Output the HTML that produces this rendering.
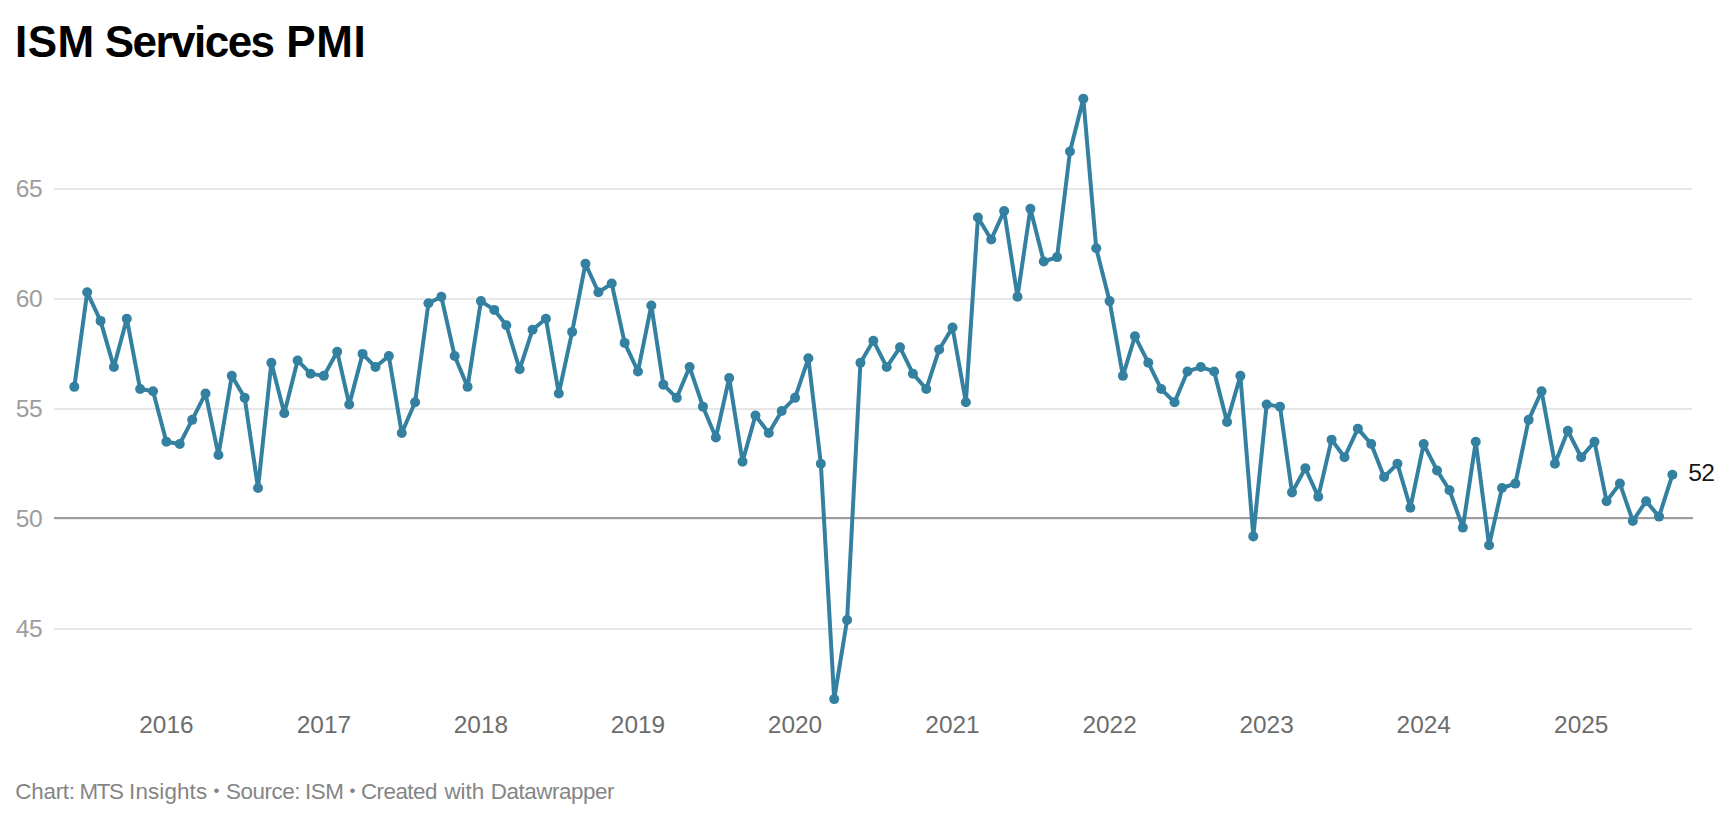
<!DOCTYPE html>
<html><head><meta charset="utf-8"><title>ISM Services PMI</title>
<style>
html,body{margin:0;padding:0;background:#fff;}
body{width:1728px;height:820px;overflow:hidden;position:relative;font-family:"Liberation Sans",sans-serif;}
h1 span{position:absolute;top:0;}
h1{position:absolute;left:14.9px;top:14px;margin:0;font-size:44px;line-height:56px;font-weight:700;letter-spacing:-0.6px;color:#000;white-space:nowrap;}
svg{position:absolute;left:0;top:0;}
.yl{font-size:24.6px;fill:#9d9d9d;letter-spacing:-0.5px;}
.xl{font-size:24.4px;fill:#6c6c6c;}
.vl{font-size:24.6px;fill:#181818;}
.foot{position:absolute;left:0;top:777.7px;font-size:22.4px;line-height:28px;color:#858585;white-space:pre;}
.foot span{position:absolute;top:0;}
.foot span.b{font-size:17px;top:-0.8px;}
</style></head><body>
<h1><span style="left:0;letter-spacing:0.55px">ISM </span><span style="left:89.9px;letter-spacing:-1.54px">Services </span><span style="left:271.3px;letter-spacing:0.6px">PMI</span></h1>
<svg width="1728" height="820" viewBox="0 0 1728 820" font-family="Liberation Sans, sans-serif">
<rect x="54" y="188.0" width="1638" height="2" fill="#e7e7e7"/><rect x="54" y="298.0" width="1638" height="2" fill="#e7e7e7"/><rect x="54" y="408.0" width="1638" height="2" fill="#e7e7e7"/><rect x="54" y="628.0" width="1638" height="2" fill="#e7e7e7"/><rect x="54" y="517.0" width="1639" height="2" fill="#9c9c9c"/><rect x="54" y="519.0" width="1639" height="1" fill="#eeeeee"/>
<text x="15.8" y="197.0" class="yl">65</text><text x="15.8" y="307.0" class="yl">60</text><text x="15.8" y="417.0" class="yl">55</text><text x="15.8" y="527.0" class="yl">50</text><text x="15.8" y="637.0" class="yl">45</text>
<text x="166.4" y="733" class="xl" text-anchor="middle">2016</text><text x="323.9" y="733" class="xl" text-anchor="middle">2017</text><text x="480.9" y="733" class="xl" text-anchor="middle">2018</text><text x="638.0" y="733" class="xl" text-anchor="middle">2019</text><text x="795.0" y="733" class="xl" text-anchor="middle">2020</text><text x="952.5" y="733" class="xl" text-anchor="middle">2021</text><text x="1109.6" y="733" class="xl" text-anchor="middle">2022</text><text x="1266.6" y="733" class="xl" text-anchor="middle">2023</text><text x="1423.7" y="733" class="xl" text-anchor="middle">2024</text><text x="1581.2" y="733" class="xl" text-anchor="middle">2025</text>
<path d="M74.30,386.86 L87.21,292.30 L100.55,320.89 L113.89,367.07 L126.80,318.69 L140.13,389.06 L153.04,391.26 L166.38,441.83 L179.72,444.03 L192.20,419.84 L205.54,393.46 L218.45,455.03 L231.79,375.86 L244.69,397.85 L258.03,488.01 L271.37,362.67 L284.28,413.25 L297.62,360.47 L310.53,373.67 L323.87,375.86 L337.21,351.68 L349.25,404.45 L362.59,353.88 L375.50,367.07 L388.84,356.07 L401.75,433.04 L415.09,402.25 L428.43,303.30 L441.34,296.70 L454.67,356.07 L467.58,386.86 L480.92,301.10 L494.26,309.89 L506.31,325.29 L519.65,369.27 L532.56,329.69 L545.90,318.69 L558.80,393.46 L572.14,331.88 L585.48,263.72 L598.39,292.30 L611.73,283.51 L624.64,342.88 L637.98,371.47 L651.32,305.50 L663.36,384.66 L676.70,397.85 L689.61,367.07 L702.95,406.65 L715.86,437.44 L729.20,378.06 L742.54,461.63 L755.45,415.45 L768.79,433.04 L781.69,411.05 L795.03,397.85 L808.37,358.27 L820.85,463.82 L834.19,699.12 L847.10,619.95 L860.44,362.67 L873.35,340.68 L886.68,367.07 L900.02,347.28 L912.93,373.67 L926.27,389.06 L939.18,349.48 L952.52,327.49 L965.86,402.25 L977.91,217.54 L991.24,239.53 L1004.15,210.94 L1017.49,296.70 L1030.40,208.74 L1043.74,261.52 L1057.08,257.12 L1069.99,151.57 L1083.33,98.79 L1096.23,248.32 L1109.57,301.10 L1122.91,375.86 L1134.96,336.28 L1148.30,362.67 L1161.21,389.06 L1174.55,402.25 L1187.46,371.47 L1200.80,367.07 L1214.13,371.47 L1227.04,422.04 L1240.38,375.86 L1253.29,536.39 L1266.63,404.45 L1279.97,406.65 L1292.02,492.41 L1305.36,468.22 L1318.26,496.81 L1331.60,439.64 L1344.51,457.23 L1357.85,428.64 L1371.19,444.03 L1384.10,477.02 L1397.44,463.82 L1410.35,507.80 L1423.68,444.03 L1437.02,470.42 L1449.50,490.21 L1462.84,527.60 L1475.75,441.83 L1489.09,545.19 L1502.00,488.01 L1515.34,483.62 L1528.67,419.84 L1541.58,391.26 L1554.92,463.82 L1567.83,430.84 L1581.17,457.23 L1594.51,441.83 L1606.56,501.21 L1619.90,483.62 L1632.80,521.00 L1646.14,501.21 L1659.05,516.60 L1672.39,474.82" fill="none" stroke="#3480a0" stroke-width="4" stroke-linejoin="round" stroke-linecap="round"/>
<g fill="#3480a0"><circle cx="74.30" cy="386.86" r="5"/><circle cx="87.21" cy="292.30" r="5"/><circle cx="100.55" cy="320.89" r="5"/><circle cx="113.89" cy="367.07" r="5"/><circle cx="126.80" cy="318.69" r="5"/><circle cx="140.13" cy="389.06" r="5"/><circle cx="153.04" cy="391.26" r="5"/><circle cx="166.38" cy="441.83" r="5"/><circle cx="179.72" cy="444.03" r="5"/><circle cx="192.20" cy="419.84" r="5"/><circle cx="205.54" cy="393.46" r="5"/><circle cx="218.45" cy="455.03" r="5"/><circle cx="231.79" cy="375.86" r="5"/><circle cx="244.69" cy="397.85" r="5"/><circle cx="258.03" cy="488.01" r="5"/><circle cx="271.37" cy="362.67" r="5"/><circle cx="284.28" cy="413.25" r="5"/><circle cx="297.62" cy="360.47" r="5"/><circle cx="310.53" cy="373.67" r="5"/><circle cx="323.87" cy="375.86" r="5"/><circle cx="337.21" cy="351.68" r="5"/><circle cx="349.25" cy="404.45" r="5"/><circle cx="362.59" cy="353.88" r="5"/><circle cx="375.50" cy="367.07" r="5"/><circle cx="388.84" cy="356.07" r="5"/><circle cx="401.75" cy="433.04" r="5"/><circle cx="415.09" cy="402.25" r="5"/><circle cx="428.43" cy="303.30" r="5"/><circle cx="441.34" cy="296.70" r="5"/><circle cx="454.67" cy="356.07" r="5"/><circle cx="467.58" cy="386.86" r="5"/><circle cx="480.92" cy="301.10" r="5"/><circle cx="494.26" cy="309.89" r="5"/><circle cx="506.31" cy="325.29" r="5"/><circle cx="519.65" cy="369.27" r="5"/><circle cx="532.56" cy="329.69" r="5"/><circle cx="545.90" cy="318.69" r="5"/><circle cx="558.80" cy="393.46" r="5"/><circle cx="572.14" cy="331.88" r="5"/><circle cx="585.48" cy="263.72" r="5"/><circle cx="598.39" cy="292.30" r="5"/><circle cx="611.73" cy="283.51" r="5"/><circle cx="624.64" cy="342.88" r="5"/><circle cx="637.98" cy="371.47" r="5"/><circle cx="651.32" cy="305.50" r="5"/><circle cx="663.36" cy="384.66" r="5"/><circle cx="676.70" cy="397.85" r="5"/><circle cx="689.61" cy="367.07" r="5"/><circle cx="702.95" cy="406.65" r="5"/><circle cx="715.86" cy="437.44" r="5"/><circle cx="729.20" cy="378.06" r="5"/><circle cx="742.54" cy="461.63" r="5"/><circle cx="755.45" cy="415.45" r="5"/><circle cx="768.79" cy="433.04" r="5"/><circle cx="781.69" cy="411.05" r="5"/><circle cx="795.03" cy="397.85" r="5"/><circle cx="808.37" cy="358.27" r="5"/><circle cx="820.85" cy="463.82" r="5"/><circle cx="834.19" cy="699.12" r="5"/><circle cx="847.10" cy="619.95" r="5"/><circle cx="860.44" cy="362.67" r="5"/><circle cx="873.35" cy="340.68" r="5"/><circle cx="886.68" cy="367.07" r="5"/><circle cx="900.02" cy="347.28" r="5"/><circle cx="912.93" cy="373.67" r="5"/><circle cx="926.27" cy="389.06" r="5"/><circle cx="939.18" cy="349.48" r="5"/><circle cx="952.52" cy="327.49" r="5"/><circle cx="965.86" cy="402.25" r="5"/><circle cx="977.91" cy="217.54" r="5"/><circle cx="991.24" cy="239.53" r="5"/><circle cx="1004.15" cy="210.94" r="5"/><circle cx="1017.49" cy="296.70" r="5"/><circle cx="1030.40" cy="208.74" r="5"/><circle cx="1043.74" cy="261.52" r="5"/><circle cx="1057.08" cy="257.12" r="5"/><circle cx="1069.99" cy="151.57" r="5"/><circle cx="1083.33" cy="98.79" r="5"/><circle cx="1096.23" cy="248.32" r="5"/><circle cx="1109.57" cy="301.10" r="5"/><circle cx="1122.91" cy="375.86" r="5"/><circle cx="1134.96" cy="336.28" r="5"/><circle cx="1148.30" cy="362.67" r="5"/><circle cx="1161.21" cy="389.06" r="5"/><circle cx="1174.55" cy="402.25" r="5"/><circle cx="1187.46" cy="371.47" r="5"/><circle cx="1200.80" cy="367.07" r="5"/><circle cx="1214.13" cy="371.47" r="5"/><circle cx="1227.04" cy="422.04" r="5"/><circle cx="1240.38" cy="375.86" r="5"/><circle cx="1253.29" cy="536.39" r="5"/><circle cx="1266.63" cy="404.45" r="5"/><circle cx="1279.97" cy="406.65" r="5"/><circle cx="1292.02" cy="492.41" r="5"/><circle cx="1305.36" cy="468.22" r="5"/><circle cx="1318.26" cy="496.81" r="5"/><circle cx="1331.60" cy="439.64" r="5"/><circle cx="1344.51" cy="457.23" r="5"/><circle cx="1357.85" cy="428.64" r="5"/><circle cx="1371.19" cy="444.03" r="5"/><circle cx="1384.10" cy="477.02" r="5"/><circle cx="1397.44" cy="463.82" r="5"/><circle cx="1410.35" cy="507.80" r="5"/><circle cx="1423.68" cy="444.03" r="5"/><circle cx="1437.02" cy="470.42" r="5"/><circle cx="1449.50" cy="490.21" r="5"/><circle cx="1462.84" cy="527.60" r="5"/><circle cx="1475.75" cy="441.83" r="5"/><circle cx="1489.09" cy="545.19" r="5"/><circle cx="1502.00" cy="488.01" r="5"/><circle cx="1515.34" cy="483.62" r="5"/><circle cx="1528.67" cy="419.84" r="5"/><circle cx="1541.58" cy="391.26" r="5"/><circle cx="1554.92" cy="463.82" r="5"/><circle cx="1567.83" cy="430.84" r="5"/><circle cx="1581.17" cy="457.23" r="5"/><circle cx="1594.51" cy="441.83" r="5"/><circle cx="1606.56" cy="501.21" r="5"/><circle cx="1619.90" cy="483.62" r="5"/><circle cx="1632.80" cy="521.00" r="5"/><circle cx="1646.14" cy="501.21" r="5"/><circle cx="1659.05" cy="516.60" r="5"/><circle cx="1672.39" cy="474.82" r="5"/></g>
<text x="1688.2" y="481" class="vl" letter-spacing="-0.7">52</text>
</svg>
<div class="foot"><span style="left:15.3px;letter-spacing:-0.24px">Chart: </span><span style="left:79.6px;letter-spacing:-1.45px">MTS </span><span style="left:129.1px;letter-spacing:0.13px">Insights </span><span class="b" style="left:213.5px">• </span><span style="left:225.9px;letter-spacing:-0.45px">Source: </span><span style="left:305.0px;letter-spacing:-0.45px">ISM </span><span class="b" style="left:349.6px">• </span><span style="left:361.0px;letter-spacing:-0.55px">Created </span><span style="left:444.4px;letter-spacing:-0.03px">with </span><span style="left:490.7px;letter-spacing:-0.43px">Datawrapper </span></div>
</body></html>
